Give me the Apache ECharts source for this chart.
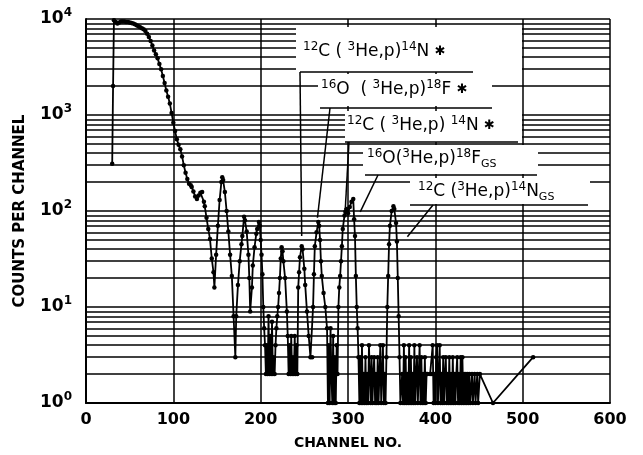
<!DOCTYPE html>
<html>
<head>
<meta charset="utf-8">
<script src="https://cdn.jsdelivr.net/npm/echarts@6/dist/echarts.min.js"></script>
<style>
html,body{margin:0;padding:0;background:#fff}
#chart{width:643px;height:455px}
</style>
</head>
<body>
<div id="chart"></div>
<script>
// channel numbers and counts
var channel = [30,31,32,34,36,38,40,42,44,46,48,50,52,54,56,58,60,62,64,66,68,70,72,74,76,78,80,82,84,86,88,90,92,94,96,98,100,
	102,104,106,108,110,112,114,116,118,120,121,123,125,127,129,131,133,135,136,138,140,142,144,146,147,149,151,153,155,156,157,159,
	161,163,165,167,169,171,172,174,176,178,179,181,182,184,186,187,188,190,191,193,195,196,198,199,200,201,202,203,204,205,
	206,207,208,209,210,211,212,213,214,215,216,217,218,219,220,221,222,223,224,225,226,228,230,231,232,233,234,235,236,237,238,239,240,241,242,
	243,244,245,247,248,250,251,253,255,257,259,260,261,262,264,266,267,268,269,270,272,274,276,277,278,279,280,281,282,283,284,285,286,287,288,
	289,290,291,292,293,294,296,297,298,300,302,304,306,307,308,309,310,311,312,
	313,314,315,316,317,318,319,320,321,322,323,324,325,326,327,328,329,330,331,332,333,334,335,336,337,338,339,340,341,342,343,344,
	345,346,347,348,350,352,353,355,356,357,358,359,360,362,363,364,365,366,367,368,369,370,371,372,373,374,375,376,377,378,379,380,
	381,382,383,384,385,386,387,388,389,390,391,394,396,397,398,399,400,401,402,403,404,405,406,407,408,409,410,411,412,413,414,415,
	416,417,418,419,420,421,422,423,424,425,426,427,428,429,430,431,432,433,434,435,436,437,438,439,440,442,443,445,446,448,449,451,466,512];
var counts = [310,2000,9700,9300,9000,9200,9400,9400,9400,9300,9300,9200,9100,9000,8800,8600,8400,8200,8000,7800,7500,7000,6500,5900,5300,4700,4300,3900,3400,3000,2550,2150,1800,1550,1320,1050,830,
	680,560,490,440,370,300,250,215,192,185,178,160,142,133,145,155,158,125,112,85,65,51,32,23,16,35,70,130,200,225,210,158,
	100,61,35,21,8,3,8,17,30,45,55,87,80,61,35,20,9,16,27,42,58,65,77,70,50,35,22,10,6,4,
	2,4,2,8,2,5,2,7,2,3,2,4,6,8,10,14,20,32,42,38,30,20,9,5,2,4,2,5,2,3,2,5,2,4,2,
	16,23,33,43,40,25,17,9,5,3,3,10,22,43,60,77,70,50,30,21,14,10,6,1,4,1,6,2,1,5,1,3,1,4,2,
	10,16,21,30,43,65,90,98,105,95,110,125,133,82,55,21,10,6,3,
	1,3,1,4,1,2,1,3,1,2,1,4,2,1,3,1,2,3,1,2,1,3,1,2,4,1,2,4,1,2,1,3,
	10,21,45,70,100,112,105,75,48,20,8,3,1,2,1,4,1,3,1,2,1,4,1,3,1,2,1,4,1,2,3,1,
	2,4,1,3,1,2,1,3,1,2,2,2,2,4,1,2,1,3,4,1,2,4,1,2,1,3,1,2,3,1,2,1,
	3,1,2,1,3,1,2,1,2,3,1,2,1,3,1,3,1,2,1,2,1,2,1,2,1,2,1,2,1,2,1,2,1,3];
var xTicks = [0,100,200,300,400,500,600];
var yMinorGrid = [2,3,4,5,6,7,8,9,20,30,40,50,60,70,80,90,200,300,400,500,600,700,800,900,2000,3000,4000,5000,6000,7000,8000,9000];

// reaction labels: text, white box, underline, leader start and the point it marks
var notes = [
	{text:'{s|12}C ( {s|3}He,p){s|14}N {a|✱}', box:[296,27,226,45], tx:303, ty:52, ul:[300,473,72], from:[300,72], to:[247,55]},
	{text:'{s|16}O  ( {s|3}He,p){s|18}F {a|✱}', box:[318,74,174,32], tx:321, ty:90, ul:[320,492,108], from:[330,108], to:[265,85]},
	{text:'{s|12}C ( {s|3}He,p) {s|14}N {a|✱}', box:[345,111,177,31], tx:347, ty:126, ul:[345,518,142], from:[349,142], to:[297,110]},
	{text:'{s|16}O({s|3}He,p){s|18}F{g|GS}', box:[363,145,175,29], tx:367, ty:159, ul:[365,537,175], from:[378,175], to:[314,98]},
	{text:'{s|12}C ({s|3}He,p){s|14}N{g|GS}', box:[410,178,180,26], tx:418, ty:192, ul:[410,588,205], from:[433,205], to:[368,54]}
];

var FONT = 'DejaVu Sans';
var points = [];
for (var i = 0; i < channel.length; i++) {
	points.push([channel[i], counts[i]]);
}
var gridMarks = [];
for (var j = 0; j < yMinorGrid.length; j++) {
	gridMarks.push({yAxis: yMinorGrid[j]});
}

var myChart = echarts.init(document.getElementById('chart'));
var option = {
	animation: false,
	backgroundColor: '#fff',
	grid: {left: 86, right: 33, top: 19, bottom: 50},
	xAxis: {
		type: 'value',
		min: xTicks[0],
		max: xTicks[xTicks.length - 1],
		interval: 100,
		axisLine: {lineStyle: {color: '#000', width: 2}},
		axisTick: {show: false},
		splitLine: {show: true, lineStyle: {color: '#000', width: 1.5}},
		axisLabel: {color: '#000', fontFamily: FONT, fontWeight: 'bold', fontSize: 16, margin: 9},
		name: 'CHANNEL NO.',
		nameLocation: 'middle',
		nameGap: 33,
		nameTextStyle: {color: '#000', fontFamily: FONT, fontWeight: 'bold', fontSize: 14}
	},
	yAxis: {
		type: 'log',
		logBase: 10,
		min: 1,
		max: 10000,
		axisLine: {show: true, lineStyle: {color: '#000', width: 2}},
		axisTick: {show: false},
		splitLine: {show: true, lineStyle: {color: '#000', width: 1.5}},
		axisLabel: {
			color: '#000', fontFamily: FONT, fontWeight: 'bold', fontSize: 17, margin: 14, lineHeight: 24,
			formatter: function(v) {
				return '10{e|' + Math.round(Math.log(v) / Math.LN10) + '}';
			},
			rich: {e: {fontFamily: FONT, fontWeight: 'bold', fontSize: 12, lineHeight: 24, verticalAlign: 'top', color: '#000'}}
		},
		name: 'COUNTS PER CHANNEL',
		nameLocation: 'middle',
		nameGap: 58,
		nameTextStyle: {color: '#000', fontFamily: FONT, fontWeight: 'bold', fontSize: 15}
	},
	series: [{
		type: 'line',
		data: points,
		symbol: 'circle',
		symbolSize: 4.5,
		lineStyle: {color: '#000', width: 1.8},
		itemStyle: {color: '#000'},
		z: 5,
		markLine: {
			silent: true,
			symbol: 'none',
			label: {show: false},
			lineStyle: {color: '#000', type: 'solid', width: 1.5},
			data: gridMarks
		}
	}]
};
myChart.setOption(option);

// labels with leader lines
var graphics = [];
var richStyle = {
	s: {fontFamily: FONT, fontSize: 12, lineHeight: 22, verticalAlign: 'top', fill: '#000'},
	g: {fontFamily: FONT, fontSize: 11, lineHeight: 22, verticalAlign: 'bottom', fill: '#000'},
	a: {fontFamily: FONT, fontSize: 13, lineHeight: 22, fill: '#000'}
};
notes.forEach(function(n) {
	var end = myChart.convertToPixel({seriesIndex: 0}, n.to);
	graphics.push({type: 'rect', z: 100, shape: {x: n.box[0], y: n.box[1], width: n.box[2], height: n.box[3]}, style: {fill: '#fff'}});
	graphics.push({type: 'text', z: 101, x: n.tx, y: n.ty, style: {
		text: n.text, rich: richStyle, fill: '#000', fontFamily: FONT, fontSize: 17, lineHeight: 22, verticalAlign: 'middle'
	}});
	graphics.push({type: 'line', z: 101, shape: {x1: n.ul[0], y1: n.ul[2], x2: n.ul[1], y2: n.ul[2]}, style: {stroke: '#000', lineWidth: 1.5}});
	graphics.push({type: 'line', z: 101, shape: {x1: n.from[0], y1: n.from[1], x2: end[0], y2: end[1]}, style: {stroke: '#000', lineWidth: 1.5}});
});
myChart.setOption({graphic: graphics});
window.onresize = myChart.resize;
</script>
</body>
</html>
